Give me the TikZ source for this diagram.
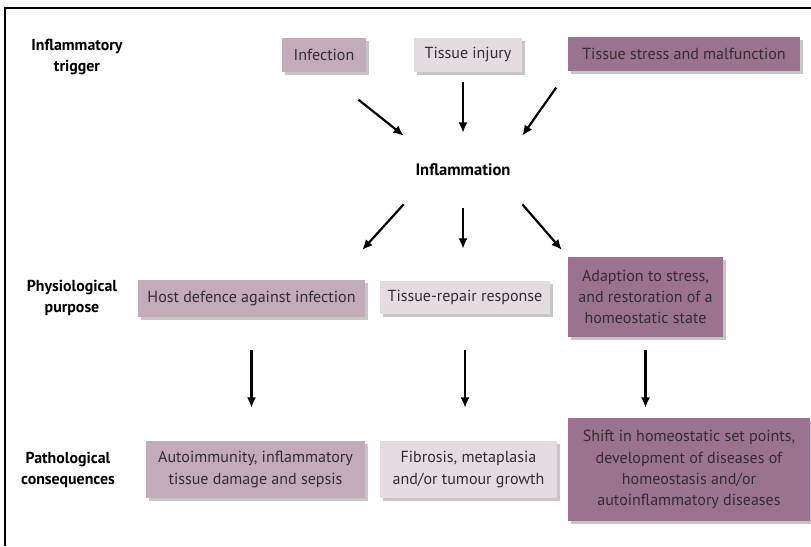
\documentclass[tikz,border=0pt]{standalone}
\usepackage{fontspec}
\setmainfont{PT Sans}
\usetikzlibrary{arrows.meta,calc,shadows}
\definecolor{hostFill}{RGB}{194,172,186}
\definecolor{repairFill}{RGB}{229,220,226}
\definecolor{stressFill}{RGB}{156,115,142}
\definecolor{boxText}{RGB}{50,45,50}
\tikzset{
  box/.style={rectangle, inner sep=0pt, align=center, text=boxText,
              font=\fontsize{11.4}{15}\selectfont,
              drop shadow={shadow xshift=0.7mm, shadow yshift=-0.8mm, fill=black!50, opacity=0.45}},
  hostbox/.style={box, fill=hostFill},
  repairbox/.style={box, fill=repairFill},
  stressbox/.style={box, fill=stressFill},
  rowlabel/.style={align=center, font=\bfseries\fontsize{11.3}{15.5}\selectfont},
  flow/.style={-{Latex[length=2.6mm, width=2.3mm]}, line width=0.55mm},
}

\begin{document}
\begin{tikzpicture}[x=0.25mm, y=-0.25mm]
  \useasboundingbox (0,0) rectangle (811,546);
  \draw[line width=0.6mm] (5,546) -- (5,8) -- (811,8);

  % row labels
  \node[rowlabel] (lTrig) at (77,57) {Inflammatory\\trigger};
  \node[rowlabel] (lPhys) at (72,298) {Physiological\\purpose};
  \node[rowlabel] (lPath) at (68,470) {Pathological\\consequences};

  % triggers
  \node[hostbox, minimum width=21mm, minimum height=8.5mm] (inf) at (324,55) {Infection};
  \node[repairbox, minimum width=27mm, minimum height=8.5mm] (inj) at (468,55) {Tissue injury};
  \node[stressbox, minimum width=58mm, minimum height=8.5mm] (str) at (684,54) {Tissue stress and malfunction};

  \node[font=\bfseries\fontsize{11.8}{15}\selectfont, minimum width=29.5mm, minimum height=17mm, inner sep=0pt] (infl) at (463,170) {Inflammation};

  % purposes
  \node[hostbox, minimum width=56.75mm, minimum height=9.25mm] (host) at (251.5,298.5) {Host defence against infection};
  \node[repairbox, minimum width=42.5mm, minimum height=8.25mm] (repair) at (465,297.5) {Tissue-repair response};
  \node[stressbox, minimum width=38.75mm, minimum height=20mm] (adapt) at (645.5,297) {Adaption to stress,\\and restoration of a\\homeostatic state};

  % consequences
  \node[hostbox, minimum width=54.75mm, minimum height=14.25mm] (auto) at (255.5,469.5) {Autoimmunity, inflammatory\\tissue damage and sepsis};
  \node[repairbox, minimum width=44.25mm, minimum height=14.25mm] (fib) at (468.5,469.5) {Fibrosis, metaplasia\\and/or tumour growth};
  \node[stressbox, minimum width=60.5mm, minimum height=25.75mm] (shift) at (689,469.5) {Shift in homeostatic set points,\\development of diseases of\\homeostasis and/or\\autoinflammatory diseases};

  % arrows
  \draw[flow, shorten <=11mm] (inf.south) -- (infl.north west);
  \draw[flow, shorten <=2.5mm, shorten >=0.75mm] (inj.south -| infl.north) -- (infl.north);
  \draw[flow, shorten <=5mm] (str.south west) -- (infl.north east);
  \draw[flow, shorten >=10mm] (infl.south west) -- ([xshift=-7.5mm]host.north east);
  \draw[flow, shorten <=1mm, shorten >=8mm] (infl.south) -- (infl.south |- repair.north);
  \draw[flow, shorten >=2.25mm] (infl.south east) -- (adapt.north west);
  \draw[flow, shorten <=8.25mm, shorten >=8.25mm] (host.south) -- (host.south |- auto.north);
  \draw[flow, shorten <=9mm, shorten >=8.25mm] (repair.south) -- (repair.south |- fib.north);
  \draw[flow, shorten <=3.25mm, shorten >=2.5mm] (adapt.south) -- (adapt.south |- shift.north);
\end{tikzpicture}
\end{document}
